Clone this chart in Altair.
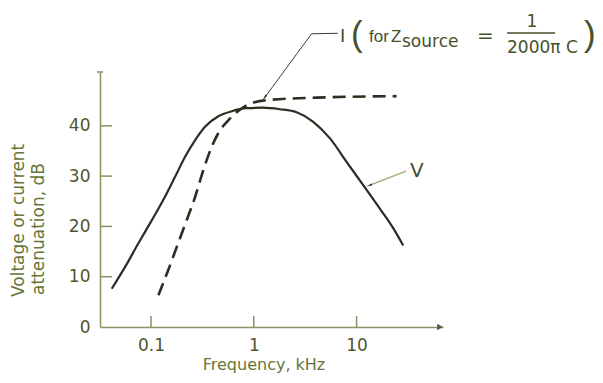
import altair as alt
import pandas as pd

# ---- data ----
v_freq = [0.0415, 0.0558, 0.0752, 0.1016, 0.1368, 0.171, 0.214, 0.268, 0.335, 0.452,
          0.610, 0.85, 1.2, 1.80, 2.61, 3.79, 5.51, 8.02, 11.6, 16.9, 22.8, 28.4]
v_db = [7.6, 11.9, 16.6, 21.2, 25.9, 29.8, 33.8, 37.1, 39.8, 41.9,
        42.9, 43.5, 43.6, 43.3, 42.7, 40.8, 37.5, 32.8, 28.2, 23.5, 19.6, 16.2]
i_freq = [0.118, 0.147, 0.178, 0.222, 0.268, 0.323, 0.389, 0.469, 0.565, 0.656,
          0.853, 1.33, 4.09, 24.5]
i_db = [6.3, 11.3, 15.9, 21.2, 25.8, 31.2, 35.8, 39.1, 41.1, 42.4,
        44.1, 45.1, 45.6, 45.9]
x_ticks = [0.1, 1, 10]
y_ticks = [0, 10, 20, 30, 40]
y_tick_marks = [10, 20, 30, 40]
i_leader_freq = [1.285, 3.65, 6.59]
i_leader_db = [45.7, 58.3, 58.4]
v_leader_freq = [13.5, 30.3]
v_leader_db = [28.2, 31.0]

W, H = 343, 255
FONT = "DejaVu Sans"
FONT2 = "Liberation Sans"
AXIS_C = "#8a9163"
LABEL_C = "#4f5530"
TITLE_C = "#677538"
CURVE_C = "#283020"
ANN_C = "#45512a"

xs = alt.Scale(type="log", domain=[0.0319, 69.3], nice=False)
ys = alt.Scale(domain=[0, 50.7], nice=False, zero=True)

v_df = pd.DataFrame({"f": v_freq, "db": v_db, "o": range(len(v_freq))})
i_df = pd.DataFrame({"f": i_freq, "db": i_db, "o": range(len(i_freq))})
il_df = pd.DataFrame({"f": i_leader_freq, "db": i_leader_db, "o": range(3)})
vl_df = pd.DataFrame({"f": v_leader_freq, "db": v_leader_db, "o": range(2)})
yt_df = pd.DataFrame({"db": y_tick_marks})
xt_df = pd.DataFrame({"f": x_ticks})
one = pd.DataFrame({"a": [0]})

# axes (domain lines + labels)
axes = alt.Chart(v_df).mark_point(opacity=0).encode(
    x=alt.X("f:Q", scale=xs, axis=alt.Axis(
        values=x_ticks, format="~g", ticks=False, grid=False, title=None,
        domainColor=AXIS_C, domainWidth=1.5, labelColor=LABEL_C,
        labelFont=FONT, labelFontSize=17, labelPadding=10)),
    y=alt.Y("db:Q", scale=ys, axis=alt.Axis(
        values=y_ticks, ticks=False, grid=False, title=None,
        domainColor=AXIS_C, domainWidth=1.5, labelColor=LABEL_C,
        labelFont=FONT, labelFontSize=17, labelPadding=10)),
)

ytick = alt.Chart(yt_df).mark_rule(color=AXIS_C, strokeWidth=1.5).encode(
    y=alt.Y("db:Q", scale=ys), x=alt.value(0), x2=alt.value(12))
xtick = alt.Chart(xt_df).mark_rule(color=AXIS_C, strokeWidth=1.5).encode(
    x=alt.X("f:Q", scale=xs), y=alt.value(H - 11), y2=alt.value(H))
ytop = alt.Chart(one).mark_rule(color=AXIS_C, strokeWidth=1.5).encode(
    x=alt.value(-3), x2=alt.value(3), y=alt.value(0))
xarrow = alt.Chart(one).mark_point(shape="triangle-right", filled=True, size=45,
                                   color="#555a40", opacity=1).encode(
    x=alt.value(W - 3), y=alt.value(H))

v_line = alt.Chart(v_df).mark_line(color=CURVE_C, strokeWidth=2.2,
                                   interpolate="monotone").encode(
    x=alt.X("f:Q", scale=xs), y=alt.Y("db:Q", scale=ys), order="o:Q")
i_line = alt.Chart(i_df).mark_line(color=CURVE_C, strokeWidth=2.6,
                                   strokeDash=[13, 7], interpolate="monotone").encode(
    x=alt.X("f:Q", scale=xs), y=alt.Y("db:Q", scale=ys), order="o:Q")

il = alt.Chart(il_df).mark_line(color="#3a4030", strokeWidth=1).encode(
    x=alt.X("f:Q", scale=xs), y=alt.Y("db:Q", scale=ys), order="o:Q")
il_head = alt.Chart(il_df.iloc[[0]]).mark_point(shape="wedge", filled=True, size=70,
                                                 angle=216, color=CURVE_C, opacity=1).encode(
    x=alt.X("f:Q", scale=xs), y=alt.Y("db:Q", scale=ys))
vl = alt.Chart(vl_df).mark_line(color="#a4a878", strokeWidth=1.3).encode(
    x=alt.X("f:Q", scale=xs), y=alt.Y("db:Q", scale=ys), order="o:Q")
vl_head = alt.Chart(vl_df.iloc[[0]]).mark_point(shape="wedge", filled=True, size=50,
                                                 angle=249, color=CURVE_C, opacity=1).encode(
    x=alt.X("f:Q", scale=xs), y=alt.Y("db:Q", scale=ys))


def txt(s, x, y, size=17, color=ANN_C, align="left", angle=0, baseline="alphabetic",
        font=FONT):
    return alt.Chart(one).mark_text(text=s, font=font, fontSize=size, color=color,
                                    align=align, baseline=baseline, angle=angle).encode(
        x=alt.value(x), y=alt.value(y))


ytitle1 = txt("Voltage or current", -81, 225, size=17, color=TITLE_C, angle=270,
              baseline="middle")
ytitle2 = txt("attenuation, dB", -61, 223, size=17, color=TITLE_C, angle=270,
              baseline="middle")
xtitle = txt("Frequency, kHz", 164, 293, size=16, color=TITLE_C, align="center",
             baseline="middle")

t_I = txt("I", 240, -30, size=18)
t_lp = txt("(", 251, -26, size=35, font=FONT2)
t_for = txt("for", 269, -30, size=17, font=FONT2)
t_Z = txt("Z", 291, -30, size=17, font=FONT2)
t_src = txt("source", 302, -25, size=17)
t_eq = txt("=", 377, -30, size=20)
t_one = txt("1", 432, -45, size=17, align="center")
bar = alt.Chart(one).mark_rule(color=ANN_C, strokeWidth=1.5).encode(
    x=alt.value(407), x2=alt.value(455), y=alt.value(-39))
t_den = txt("2000π C", 407, -19, size=17)
t_rp = txt(")", 484, -26, size=35, font=FONT2)
t_V = txt("V", 310, 105, size=20)

chart = alt.layer(
    axes, ytick, xtick, ytop, xarrow, v_line, i_line, il, il_head, vl, vl_head,
    ytitle1, ytitle2, xtitle, t_I, t_lp, t_for, t_Z, t_src, t_eq, t_one, bar, t_den,
    t_rp, t_V
).properties(
    width=W, height=H,
    autosize=alt.AutoSizeParams(type="none"),
    padding={"left": 92, "top": 64, "right": 152, "bottom": 48},
    background="#ffffff",
).configure_view(stroke=None)

chart.save("out.html", embed_options={"renderer": "svg", "actions": False})
